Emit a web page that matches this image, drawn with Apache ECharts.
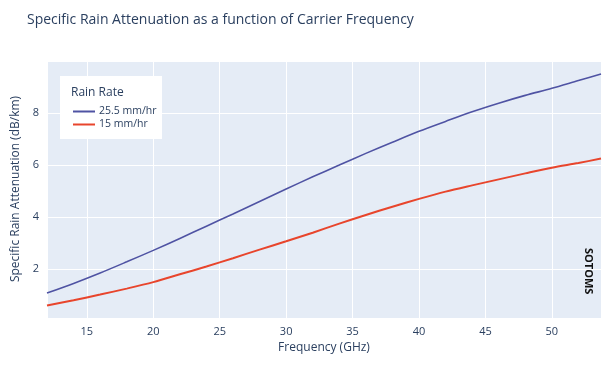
<!DOCTYPE html>
<html>
<head>
<meta charset="utf-8">
<script src="https://cdn.jsdelivr.net/npm/echarts@6/dist/echarts.min.js"></script>
<style>html,body{margin:0;padding:0;background:#fff;}#c{width:607px;height:367px;}</style>
</head>
<body>
<div id="c"></div>
<script>
const freq = [12, 14, 16, 18, 20, 22, 24, 26, 28, 30, 32, 34, 36, 38, 40, 42, 44, 46, 48, 50, 52, 53.7];
const rate255 = [1.08, 1.45, 1.85, 2.28, 2.72, 3.18, 3.65, 4.12, 4.60, 5.08, 5.55, 6.00, 6.45, 6.88, 7.30, 7.68, 8.05, 8.38, 8.68, 8.95, 9.25, 9.50];
const rate15 = [0.60, 0.80, 1.02, 1.25, 1.50, 1.80, 2.10, 2.42, 2.75, 3.07, 3.40, 3.75, 4.08, 4.40, 4.70, 4.98, 5.22, 5.45, 5.68, 5.90, 6.08, 6.25];
const seriesNames = ['25.5 mm/hr', '15 mm/hr'];
const xTicks = [15, 20, 25, 30, 35, 40, 45, 50];
const yTicks = [2, 4, 6, 8];

const font = '"Open Sans", "Noto Sans", sans-serif';
const txt = '#2a3f5f';
const chart = echarts.init(document.getElementById('c'));
const pair = (xs, ys) => xs.map((x, i) => [x, ys[i]]);
chart.setOption({
  animation: false,
  backgroundColor: '#fff',
  title: {
    text: 'Specific Rain Attenuation as a function of Carrier Frequency',
    left: 22, top: 8,
    textStyle: { fontFamily: font, fontSize: 14, fontWeight: 'normal', color: txt }
  },
  grid: { left: 47, right: 6, top: 60, bottom: 49, backgroundColor: '#E5ECF6', show: true, borderWidth: 0 },
  xAxis: {
    type: 'value', min: 12, max: 53.7, splitNumber: 8,
    name: 'Frequency (GHz)', nameLocation: 'middle', nameGap: 23,
    nameTextStyle: { fontFamily: font, fontSize: 12, color: txt },
    axisLine: { show: false }, axisTick: { show: false },
    axisLabel: { fontFamily: font, fontSize: 11, color: txt, margin: 8,
      formatter: v => xTicks.includes(v) ? String(v) : '' },
    splitLine: { lineStyle: { color: '#fff', width: 1 } }
  },
  yAxis: {
    type: 'value', min: 0.12, max: 10.04, splitNumber: 5,
    name: 'Specific Rain Attenuation (dB/km)', nameLocation: 'middle', nameGap: 19,
    nameTextStyle: { fontFamily: font, fontSize: 12, color: txt },
    axisLine: { show: false }, axisTick: { show: false },
    axisLabel: { fontFamily: font, fontSize: 11, color: txt, margin: 8,
      formatter: v => yTicks.includes(v) ? String(v) : '' },
    splitLine: { lineStyle: { color: '#fff', width: 1 } }
  },
  legend: {
    data: seriesNames, orient: 'vertical', left: 68, top: 101, padding: 5,
    itemWidth: 22, itemHeight: 2, itemGap: 2,
    icon: 'rect',
    textStyle: { fontFamily: font, fontSize: 10.5, color: txt, padding: [0, 0, 0, -1] }
  },
  graphic: [
    { type: 'rect', left: 60, top: 76, z: 1, shape: { width: 102, height: 63 }, style: { fill: '#fff' } },
    { type: 'text', left: 71, top: 87, z: 2, style: { text: 'Rain Rate', fontFamily: font, fontSize: 12, fill: txt } },
    { type: 'text', left: 583, top: 248, rotation: -Math.PI / 2, z: 5,
      style: { text: 'SOTOMS', fontFamily: font, fontSize: 11, fontWeight: 'bold', fill: '#111' } }
  ],
  series: [
    { name: seriesNames[0], type: 'line', data: pair(freq, rate255), showSymbol: false, smooth: 0.3,
      lineStyle: { color: '#4f53a3', width: 1.6 }, itemStyle: { color: '#4f53a3' } },
    { name: seriesNames[1], type: 'line', data: pair(freq, rate15), showSymbol: false, smooth: 0.3,
      lineStyle: { color: '#e8452c', width: 2 }, itemStyle: { color: '#e8452c' } }
  ]
});
</script>
</body>
</html>
